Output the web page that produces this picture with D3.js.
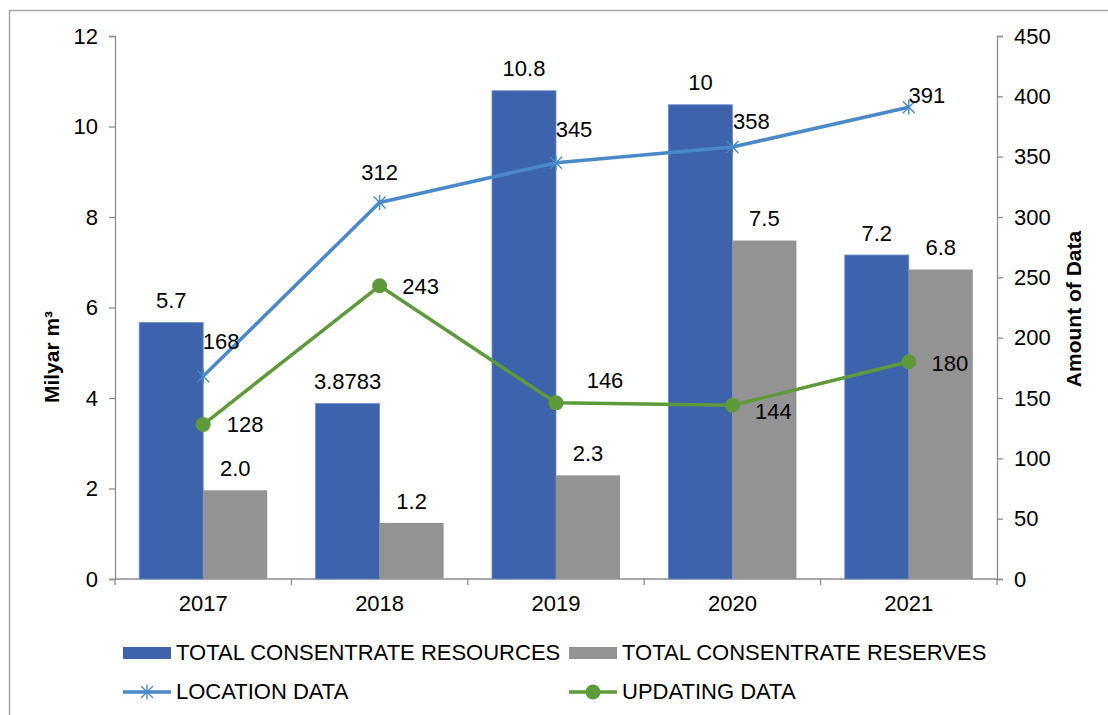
<!DOCTYPE html>
<html>
<head>
<meta charset="utf-8">
<script src="https://cdn.jsdelivr.net/npm/d3@7"></script>
<style>
  html, body { margin: 0; padding: 0; background: #fff; }
  svg { display: block; font-family: "Liberation Sans", Arial, sans-serif; }
</style>
</head>
<body>
<svg id="chart" width="1108" height="715"></svg>
<script>
// Yearly figures
const years = ["2017", "2018", "2019", "2020", "2021"];
const resources = [5.67, 3.8783, 10.79, 10.48, 7.16];      // Milyar m3
const resourceDecimals = [1, 4, 1, 0, 1];
const reserves = [1.96, 1.24, 2.29, 7.48, 6.84];           // Milyar m3
const reserveDecimals = [1, 1, 1, 1, 1];
const locationData = [168, 312, 345, 358, 391];             // amount of data
const updatingData = [128, 243, 146, 144, 180];             // amount of data
const leftTicks = [0, 2, 4, 6, 8, 10, 12];
const rightTicks = [0, 50, 100, 150, 200, 250, 300, 350, 400, 450];

// label placement relative to each line marker
const locationLabelOffsets = [[18, -35], [0, -30], [18, -33], [19, -26], [18, -12]];
const updatingLabelOffsets = [[42, 0], [41, 1], [49, -23], [41, 6], [41, 1]];

const COLORS = {
  resources: "#3C63AC",
  resourcesEdge: "#6A8FD0",
  reserves: "#939393",
  location: "#4A89C8",
  updating: "#5E9A3A",
  axis: "#8C8C8C",
  text: "#000"
};
const FONT = 22;

const svg = d3.select("#chart");

// outer chart frame
svg.append("rect")
  .attr("x", 9.5).attr("y", 10.5)
  .attr("width", 1120).attr("height", 720)
  .attr("fill", "none").attr("stroke", "#A6A6A6").attr("stroke-width", 1.5);

const plot = { left: 115, right: 997, top: 36, bottom: 579 };

const x = d3.scaleBand().domain(years).range([plot.left, plot.right]).paddingInner(0).paddingOuter(0);
const xSub = d3.scaleBand().domain(["resources", "reserves"]).range([0, x.bandwidth()])
  .paddingInner(0).paddingOuter(0.378);
const yL = d3.scaleLinear().domain([0, 12]).range([plot.bottom, plot.top]);
const yR = d3.scaleLinear().domain([0, 450]).range([plot.bottom, plot.top]);

// axes
const leftAxis = svg.append("g")
  .attr("transform", `translate(${plot.left},0)`)
  .call(d3.axisLeft(yL).tickValues(leftTicks).tickSize(6).tickPadding(11).tickFormat(d3.format("d")));
const rightAxis = svg.append("g")
  .attr("transform", `translate(${plot.right},0)`)
  .call(d3.axisRight(yR).tickValues(rightTicks).tickSize(6).tickPadding(11).tickFormat(d3.format("d")));
const bottomAxis = svg.append("g")
  .attr("transform", `translate(0,${plot.bottom})`)
  .call(d3.axisBottom(x).tickSize(0).tickPadding(16));

// category boundary ticks on the x axis
const boundaries = years.map(y => x(y)).concat([plot.right]);
bottomAxis.selectAll("line.boundary")
  .data(boundaries).enter().append("line")
  .attr("class", "boundary")
  .attr("x1", d => d).attr("x2", d => d)
  .attr("y1", 0).attr("y2", 6);

[leftAxis, rightAxis, bottomAxis].forEach(g => {
  g.selectAll("path.domain").attr("stroke", COLORS.axis).attr("stroke-width", 1.3);
  g.selectAll("line").attr("stroke", COLORS.axis).attr("stroke-width", 1.3);
  g.selectAll("text").attr("fill", COLORS.text).style("font-size", FONT + "px")
    .style("font-family", "'Liberation Sans', Arial, sans-serif");
});
bottomAxis.select("path.domain").attr("d", `M${plot.left},0H${plot.right}`);

// bars
const barData = years.map((yr, i) => ({
  year: yr,
  items: [
    { key: "resources", value: resources[i], dec: resourceDecimals[i] },
    { key: "reserves", value: reserves[i], dec: reserveDecimals[i] }
  ]
}));

const groups = svg.append("g").selectAll("g")
  .data(barData).enter().append("g")
  .attr("transform", d => `translate(${x(d.year)},0)`);

groups.selectAll("rect")
  .data(d => d.items).enter().append("rect")
  .attr("x", d => xSub(d.key))
  .attr("width", xSub.bandwidth())
  .attr("y", d => yL(d.value))
  .attr("height", d => plot.bottom - yL(d.value))
  .attr("fill", d => d.key === "resources" ? COLORS.resources : COLORS.reserves)
  .attr("stroke", d => d.key === "resources" ? COLORS.resourcesEdge : "none")
  .attr("stroke-width", 0.8);

groups.selectAll("text")
  .data(d => d.items).enter().append("text")
  .attr("x", d => xSub(d.key) + xSub.bandwidth() / 2)
  .attr("y", d => yL(d.value) - 22)
  .attr("dy", "0.35em")
  .attr("text-anchor", "middle")
  .style("font-size", FONT + "px")
  .text(d => d3.format("." + d.dec + "f")(d.value));

// lines
const cx = yr => x(yr) + x.bandwidth() / 2;

function starPath(px, py, r) {
  const d = r * 0.8;
  return `M${px - d},${py - d}L${px + d},${py + d}M${px - d},${py + d}L${px + d},${py - d}M${px},${py - r}L${px},${py + r}`;
}

const lineGen = d3.line().x(d => cx(d.year)).y(d => yR(d.value));

const locPts = years.map((yr, i) => ({ year: yr, value: locationData[i], off: locationLabelOffsets[i] }));
const updPts = years.map((yr, i) => ({ year: yr, value: updatingData[i], off: updatingLabelOffsets[i] }));

svg.append("path").datum(locPts)
  .attr("d", lineGen).attr("fill", "none")
  .attr("stroke", COLORS.location).attr("stroke-width", 3.5).attr("stroke-linejoin", "round");
svg.append("g").selectAll("path")
  .data(locPts).enter().append("path")
  .attr("d", d => starPath(cx(d.year), yR(d.value), 7.5))
  .attr("stroke", COLORS.location).attr("stroke-width", 1.4).attr("fill", "none");

svg.append("path").datum(updPts)
  .attr("d", lineGen).attr("fill", "none")
  .attr("stroke", COLORS.updating).attr("stroke-width", 3.5).attr("stroke-linejoin", "round");
svg.append("g").selectAll("circle")
  .data(updPts).enter().append("circle")
  .attr("cx", d => cx(d.year)).attr("cy", d => yR(d.value)).attr("r", 7.5)
  .attr("fill", COLORS.updating);

// line labels
[locPts, updPts].forEach(pts => {
  svg.append("g").selectAll("text")
    .data(pts).enter().append("text")
    .attr("x", d => cx(d.year) + d.off[0])
    .attr("y", d => yR(d.value) + d.off[1])
    .attr("dy", "0.35em")
    .attr("text-anchor", "middle")
    .style("font-size", FONT + "px")
    .text(d => d.value);
});

// axis titles
svg.append("text")
  .attr("transform", `translate(59,357) rotate(-90)`)
  .attr("text-anchor", "middle")
  .style("font-size", "21px").style("font-weight", "bold")
  .text("Milyar m³");
svg.append("text")
  .attr("transform", `translate(1081,309) rotate(-90)`)
  .attr("text-anchor", "middle")
  .style("font-size", "21px").style("font-weight", "bold")
  .text("Amount of Data");

// legend
const legend = svg.append("g");
const legendItems = [
  { label: "TOTAL CONSENTRATE RESOURCES", type: "bar", color: COLORS.resources, x: 123, y: 653 },
  { label: "TOTAL CONSENTRATE RESERVES", type: "bar", color: COLORS.reserves, x: 569, y: 653 },
  { label: "LOCATION DATA", type: "star", color: COLORS.location, x: 123, y: 692 },
  { label: "UPDATING DATA", type: "dot", color: COLORS.updating, x: 569, y: 692 }
];
legendItems.forEach(it => {
  if (it.type === "bar") {
    legend.append("rect").attr("x", it.x).attr("y", it.y - 6).attr("width", 48).attr("height", 12)
      .attr("fill", it.color);
  } else {
    legend.append("line").attr("x1", it.x).attr("x2", it.x + 48).attr("y1", it.y).attr("y2", it.y)
      .attr("stroke", it.color).attr("stroke-width", 3.5);
    if (it.type === "star") {
      legend.append("path").attr("d", starPath(it.x + 24, it.y, 7.5))
        .attr("stroke", it.color).attr("stroke-width", 1.4).attr("fill", "none");
    } else {
      legend.append("circle").attr("cx", it.x + 24).attr("cy", it.y).attr("r", 7.5).attr("fill", it.color);
    }
  }
  legend.append("text").attr("x", it.x + 53).attr("y", it.y - 1).attr("dy", "0.35em")
    .style("font-size", FONT + "px").text(it.label);
});
</script>
</body>
</html>
